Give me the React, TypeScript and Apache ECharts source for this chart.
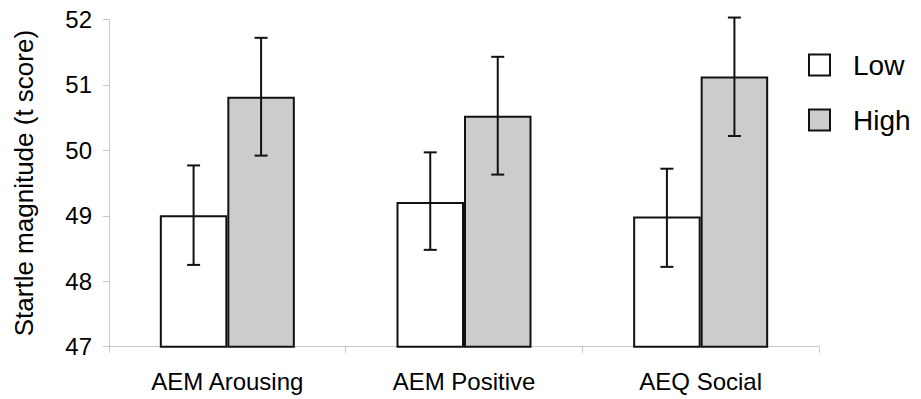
import React, { useEffect, useRef } from "react";
import * as echarts from "echarts";

const categories = ["AEM Arousing", "AEM Positive", "AEQ Social"];
const lowValues = [49.01, 49.21, 48.99];
const lowErrLow = [48.25, 48.48, 48.22];
const lowErrHigh = [49.77, 49.97, 49.72];
const highValues = [50.82, 50.53, 51.13];
const highErrLow = [49.92, 49.63, 50.22];
const highErrHigh = [51.72, 51.43, 52.03];
const yTicks = [47, 48, 49, 50, 51, 52];

const FONT = "'Liberation Sans', Arial, sans-serif";
const BAR_W = 67.5;

export default function App() {
  const ref = useRef<HTMLDivElement>(null);
  useEffect(() => {
    if (!ref.current) return;
    const chart = echarts.init(ref.current, undefined, { renderer: "svg" });
    const errData: number[][] = [];
    for (let i = 0; i < categories.length; i++) {
      errData.push([i, lowErrLow[i], lowErrHigh[i], -1]);
      errData.push([i, highErrLow[i], highErrHigh[i], 1]);
    }
    chart.setOption({
      animation: false,
      textStyle: { fontFamily: FONT },
      grid: { left: 109, right: 102, top: 19.5, bottom: 52.3, outerBoundsMode: "none", containLabel: false },
      legend: {
        orient: "vertical",
        left: 803,
        top: 46,
        icon: "rect",
        itemWidth: 21,
        itemHeight: 21,
        itemGap: 27,
        data: ["Low", "High"],
        textStyle: { fontSize: 28, color: "#000", fontFamily: FONT, padding: [0, 0, 0, 18] },
      },
      xAxis: {
        type: "category",
        data: categories,
        axisLine: { lineStyle: { color: "#c8c8c8", width: 1 } },
        axisTick: { show: true, length: 6, lineStyle: { color: "#c8c8c8" } },
        axisLabel: { fontSize: 24, color: "#000", margin: 23, fontFamily: FONT },
      },
      yAxis: {
        type: "value",
        min: 47,
        max: 52,
        interval: 1,
        name: "Startle magnitude (t score)",
        nameLocation: "middle",
        nameGap: 72,
        nameTextStyle: { fontSize: 26, color: "#000", fontFamily: FONT },
        axisLine: { show: true, lineStyle: { color: "#c8c8c8", width: 1 } },
        axisTick: { show: true, length: 6, lineStyle: { color: "#c8c8c8" } },
        splitLine: { show: false },
        axisLabel: {
          fontSize: 24,
          color: "#000",
          margin: 17,
          fontFamily: FONT,
          formatter: (v: number) => (yTicks.includes(v) ? String(v) : ""),
        },
      },
      series: [
        {
          name: "Low",
          type: "bar",
          data: lowValues,
          barWidth: BAR_W,
          barGap: "0%",
          itemStyle: { color: "#ffffff", borderColor: "#111", borderWidth: 2 },
        },
        {
          name: "High",
          type: "bar",
          data: highValues,
          barWidth: BAR_W,
          barGap: "0%",
          itemStyle: { color: "#cccccc", borderColor: "#111", borderWidth: 2 },
        },
        {
          type: "custom",
          data: errData,
          z: 10,
          renderItem: (params: any, api: any) => {
            const idx = api.value(0);
            const lo = api.coord([idx, api.value(1)]);
            const hi = api.coord([idx, api.value(2)]);
            const side = api.value(3);
            const x = lo[0] + side * (BAR_W / 2);
            const cap = 6.5;
            const style = { stroke: "#111", lineWidth: 2 };
            return {
              type: "group",
              children: [
                { type: "line", shape: { x1: x, y1: lo[1], x2: x, y2: hi[1] }, style },
                { type: "line", shape: { x1: x - cap, y1: lo[1], x2: x + cap, y2: lo[1] }, style },
                { type: "line", shape: { x1: x - cap, y1: hi[1], x2: x + cap, y2: hi[1] }, style },
              ],
            };
          },
        },
      ],
    });
    return () => chart.dispose();
  }, []);
  return <div ref={ref} style={{ width: 921, height: 399, position: "absolute", left: 0, top: 0 }} />;
}
